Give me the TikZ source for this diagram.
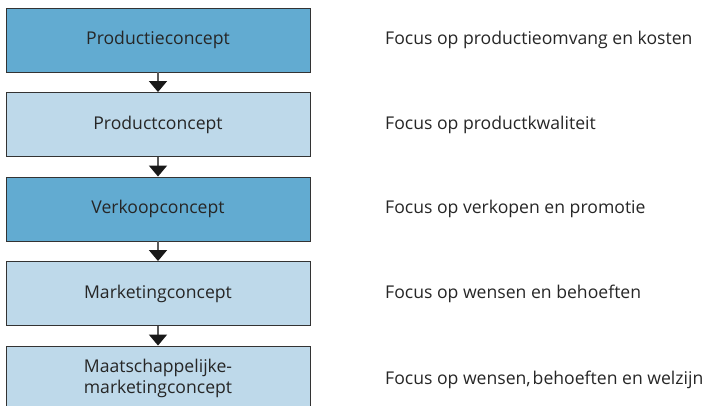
\documentclass[tikz,border=0pt]{standalone}
\usepackage{fontspec}
\setmainfont{Open Sans}
\usepackage{tikz}
\usetikzlibrary{arrows.meta}
\definecolor{donker}{RGB}{98,171,209}
\definecolor{licht}{RGB}{190,217,234}

\begin{document}
\begin{tikzpicture}[x=1pt,y=-1pt]
	\tikzstyle{concept}=[draw=black!80,line width=0.9pt,minimum width=304pt,minimum height=64pt,align=center,font=\fontsize{17.6}{21}\selectfont,text=black!85]
	\tikzstyle{focus}=[anchor=west,inner sep=0pt,font=\fontsize{17.6}{21}\selectfont,text=black!85]
	\tikzstyle{pijl}=[draw=black!65,line width=1.6pt,-{Triangle[width=18pt,length=11pt,color=black!90]}]
	\clip (0,0) rectangle (709,405);
	% de vijf concepten
	\node[concept,fill=donker](c1) at (158,40) {Productieconcept};
	\node[concept,fill=licht](c2) at (158,124.5) {Productconcept};
	\node[concept,fill=donker](c3) at (158,209) {Verkoopconcept};
	\node[concept,fill=licht](c4) at (158,293.5) {Marketingconcept};
	\node[concept,fill=licht](c5) at (158,378) {Maatschappelijke-\\marketingconcept};
	% toelichting rechts
	\node[focus](f1) at (385,40) {Focus op productieomvang en kosten};
	\node[focus](f2) at (385,124.5) {Focus op productkwaliteit};
	\node[focus](f3) at (385,209) {Focus op verkopen en promotie};
	\node[focus](f4) at (385,293.5) {Focus op wensen en behoeften};
	\node[focus](f5) at (385,380) {Focus op wensen,\hspace{-0.15em} behoeften en welzijn};
	% pijlen
	\draw[pijl](c1) -- (c2);
	\draw[pijl](c2) -- (c3);
	\draw[pijl](c3) -- (c4);
	\draw[pijl](c4) -- (c5);
\end{tikzpicture}
\end{document}
